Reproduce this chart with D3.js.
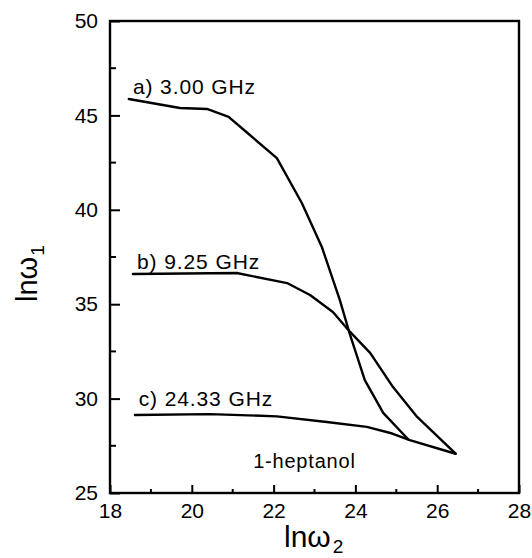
<!DOCTYPE html>
<html>
<head>
<meta charset="utf-8">
<script src="https://cdnjs.cloudflare.com/ajax/libs/d3/7.8.5/d3.min.js"></script>
<style>
  html, body { margin: 0; padding: 0; background: #fff; }
  svg { display: block; }
  text { font-family: "Liberation Sans", Arial, sans-serif; fill: #000; }
</style>
</head>
<body>
<svg id="chart" width="532" height="558"></svg>
<script>
// ---- data ----
const seriesA_x = [18.46, 19.71, 20.37, 20.90, 21.42, 22.08, 22.69, 23.18, 23.62, 23.87, 24.23, 24.68, 25.30];
const seriesA_y = [45.87, 45.39, 45.34, 44.92, 43.96, 42.74, 40.36, 38.03, 35.22, 33.37, 30.98, 29.24, 27.82];

const seriesB_x = [18.56, 21.10, 22.33, 22.89, 23.45, 23.87, 24.36, 24.92, 25.51, 26.45];
const seriesB_y = [36.60, 36.65, 36.12, 35.49, 34.59, 33.53, 32.42, 30.61, 29.03, 27.08];

const seriesC_x = [18.61, 20.44, 22.08, 23.30, 24.28, 24.90, 25.33, 26.45];
const seriesC_y = [29.13, 29.18, 29.06, 28.76, 28.50, 28.15, 27.80, 27.08];

const seriesLabels = ["a) 3.00 GHz", "b) 9.25 GHz", "c) 24.33 GHz"];
const labelAnchorX = [18.56, 18.66, 18.70];
const labelAnchorY = [46.15, 36.85, 29.6];
const sampleLabel = "1-heptanol";
const sampleAnchor = [21.50, 26.32];

const xTicksMajor = [18, 20, 22, 24, 26, 28];
const xTicksMinor = [19, 21, 23, 25, 27];
const yTicksMajor = [25, 30, 35, 40, 45, 50];
const yTicksMinor = [27.5, 32.5, 37.5, 42.5, 47.5];

// ---- layout ----
const svg = d3.select("#chart");
const mLeft = 110, mRight = 519, mTop = 21, mBottom = 493;
const x = d3.scaleLinear().domain([18, 28]).range([mLeft, mRight]);
const y = d3.scaleLinear().domain([25, 50]).range([mBottom, mTop]);

// frame
svg.append("rect")
  .attr("x", mLeft).attr("y", mTop)
  .attr("width", mRight - mLeft).attr("height", mBottom - mTop)
  .attr("fill", "none").attr("stroke", "#000").attr("stroke-width", 2.4);

// axes (inward ticks)
const xAxis = d3.axisBottom(x).tickValues(xTicksMajor).tickSize(-8).tickPadding(12).tickFormat(d3.format("d"));
const gx = svg.append("g").attr("transform", `translate(0,${mBottom})`).call(xAxis);
gx.select(".domain").remove();
gx.selectAll(".tick line").attr("stroke", "#000").attr("stroke-width", 2);
gx.selectAll(".tick text").attr("font-size", 21).attr("font-family", "Liberation Sans, Arial, sans-serif").attr("dy", "0.62em");
svg.append("g").selectAll("line").data(xTicksMinor).join("line")
  .attr("x1", d => x(d)).attr("x2", d => x(d))
  .attr("y1", mBottom).attr("y2", mBottom - 4)
  .attr("stroke", "#000").attr("stroke-width", 2);

const yAxis = d3.axisLeft(y).tickValues(yTicksMajor).tickSize(-10).tickPadding(12).tickFormat(d3.format("d"));
const gy = svg.append("g").attr("transform", `translate(${mLeft},0)`).call(yAxis);
gy.select(".domain").remove();
gy.selectAll(".tick line").attr("stroke", "#000").attr("stroke-width", 2);
gy.selectAll(".tick text").attr("font-size", 21).attr("font-family", "Liberation Sans, Arial, sans-serif");
svg.append("g").selectAll("line").data(yTicksMinor).join("line")
  .attr("x1", mLeft).attr("x2", mLeft + 6)
  .attr("y1", d => y(d)).attr("y2", d => y(d))
  .attr("stroke", "#000").attr("stroke-width", 2);

// curves
const line = d3.line().x(d => x(d[0])).y(d => y(d[1])).curve(d3.curveLinear);
const series = [
  d3.zip(seriesA_x, seriesA_y),
  d3.zip(seriesB_x, seriesB_y),
  d3.zip(seriesC_x, seriesC_y)
];
svg.append("g").selectAll("path").data(series).join("path")
  .attr("d", line)
  .attr("fill", "none").attr("stroke", "#000")
  .attr("stroke-width", 2.4).attr("stroke-linejoin", "round").attr("stroke-linecap", "round");

// series labels
svg.append("g").selectAll("text").data(seriesLabels).join("text")
  .attr("x", (d, i) => x(labelAnchorX[i]))
  .attr("y", (d, i) => y(labelAnchorY[i]))
  .attr("font-size", 21).attr("letter-spacing", "0.9px")
  .text(d => d);

svg.append("text")
  .attr("x", x(sampleAnchor[0])).attr("y", y(sampleAnchor[1]))
  .attr("font-size", 20).attr("letter-spacing", "0.8px")
  .text(sampleLabel);

// axis titles
const xt = svg.append("text").attr("x", 284).attr("y", 547).attr("font-size", 30);
xt.append("tspan").text("lnω");
xt.append("tspan").attr("font-size", 19).attr("dy", 6).attr("dx", 2).text("2");

const yt = svg.append("text").attr("transform", "translate(37,302) rotate(-90)").attr("font-size", 29);
yt.append("tspan").text("lnω");
yt.append("tspan").attr("font-size", 19).attr("dy", 7).attr("dx", 1).text("1");
</script>
</body>
</html>
